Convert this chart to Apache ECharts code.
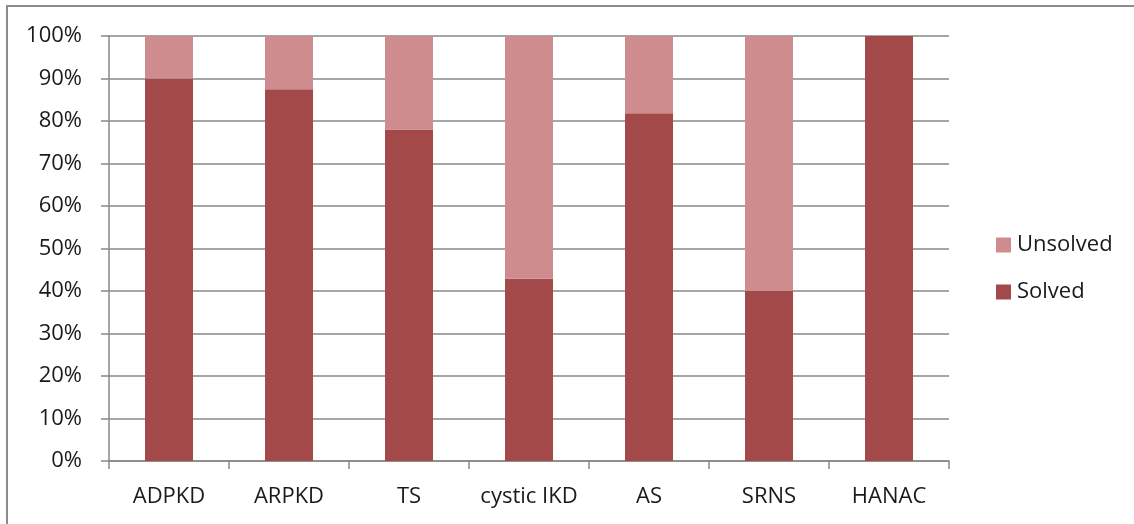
<!DOCTYPE html>
<html>
<head>
<meta charset="utf-8">
<script src="https://cdn.jsdelivr.net/npm/echarts@6/dist/echarts.min.js"></script>
<style>
  html, body { margin: 0; padding: 0; background: #ffffff; }
  #chart { width: 1134px; height: 524px; }
</style>
</head>
<body>
<div id="chart"></div>
<script>
// Diagnostic outcome per disease group (percent of cases)
const categories = ['ADPKD', 'ARPKD', 'TS', 'cystic IKD', 'AS', 'SRNS', 'HANAC'];
const solved = [90, 87.5, 78, 42.9, 81.8, 40, 100];
const unsolved = [10, 12.5, 22, 57.1, 18.2, 60, 0];
const yTicks = [0, 10, 20, 30, 40, 50, 60, 70, 80, 90, 100];

const FONT = '"Open Sans", "Noto Sans", sans-serif';
const TEXT = '#1a1a1a';
const LINE = '#888888';

const chart = echarts.init(document.getElementById('chart'), null, { renderer: 'canvas' });

chart.setOption({
  animation: false,
  backgroundColor: '#ffffff',
  textStyle: { fontFamily: FONT },
  graphic: [
    {
      type: 'rect',
      shape: { x: 7, y: 6, width: 1300, height: 700 },
      style: { fill: 'none', stroke: '#8c8c8c', lineWidth: 2 },
      silent: true
    }
  ],
  grid: { left: 109, right: 185, top: 36, bottom: 63, containLabel: false },
  legend: {
    orient: 'vertical',
    left: 991,
    top: 229,
    icon: 'rect',
    itemWidth: 15,
    itemHeight: 15,
    itemGap: 25,
    data: ['Unsolved', 'Solved'],
    textStyle: { fontSize: 22, color: TEXT, fontFamily: FONT, padding: [0, 0, 0, 1] }
  },
  xAxis: {
    type: 'category',
    data: categories,
    boundaryGap: true,
    axisLine: { lineStyle: { color: LINE, width: 1.5 } },
    axisTick: { show: true, length: 8, alignWithLabel: false, lineStyle: { color: LINE, width: 1.5 } },
    axisLabel: { interval: 0, fontSize: 22, color: TEXT, margin: 25, fontFamily: FONT }
  },
  yAxis: {
    type: 'value',
    min: yTicks[0],
    max: yTicks[yTicks.length - 1],
    interval: yTicks[1] - yTicks[0],
    axisLine: { show: true, lineStyle: { color: LINE, width: 1.5 } },
    axisTick: { show: true, length: 8, lineStyle: { color: LINE, width: 1.5 } },
    splitLine: { show: true, lineStyle: { color: LINE, width: 1.5 } },
    axisLabel: { fontSize: 22, color: TEXT, margin: 27, fontFamily: FONT, formatter: '{value}%' }
  },
  series: [
    {
      name: 'Solved',
      type: 'bar',
      stack: 'total',
      data: solved,
      barCategoryGap: '60%',
      itemStyle: { color: '#a4494a' }
    },
    {
      name: 'Unsolved',
      type: 'bar',
      stack: 'total',
      data: unsolved,
      barCategoryGap: '60%',
      itemStyle: { color: '#ce8c8f' }
    }
  ]
});
</script>
</body>
</html>
